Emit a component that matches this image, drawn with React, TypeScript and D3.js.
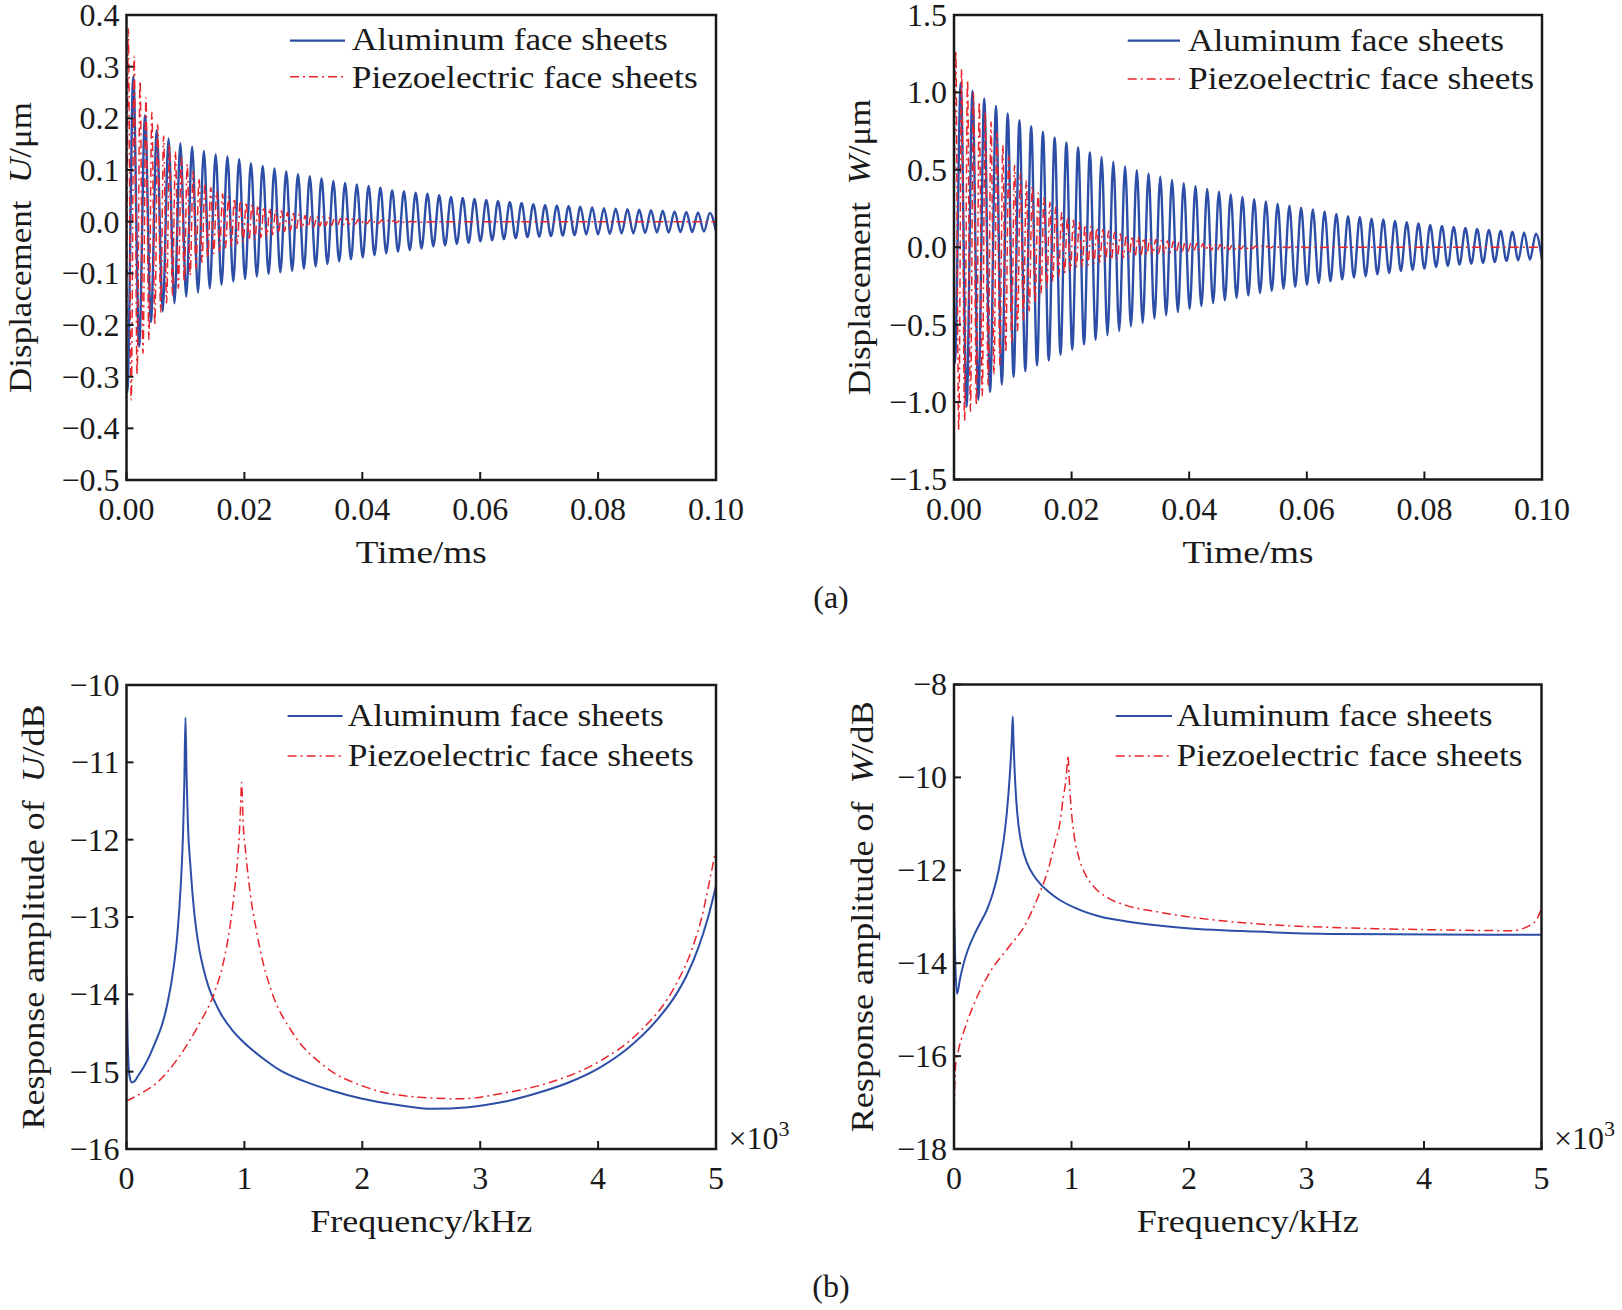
import React from "react";
import * as d3 from "d3";

const FONT = "'Liberation Serif', 'Times New Roman', Times, serif";
const BLUE = "#2c4ea7";
const RED = "#e8252c";
const INK = "#1a1a1a";

type Pt = [number, number];

// ---------------- tick values / labels ----------------
const timeTicks = [0, 0.02, 0.04, 0.06, 0.08, 0.1];
const timeTickLabels = ["0.00", "0.02", "0.04", "0.06", "0.08", "0.10"];
const uTicks = [0.4, 0.3, 0.2, 0.1, 0, -0.1, -0.2, -0.3, -0.4, -0.5];
const uTickLabels = ["0.4", "0.3", "0.2", "0.1", "0.0", "−0.1", "−0.2", "−0.3", "−0.4", "−0.5"];
const wTicks = [1.5, 1.0, 0.5, 0, -0.5, -1.0, -1.5];
const wTickLabels = ["1.5", "1.0", "0.5", "0.0", "−0.5", "−1.0", "−1.5"];
const freqTicks = [0, 1, 2, 3, 4, 5];
const freqTickLabels = ["0", "1", "2", "3", "4", "5"];
const uDbTicks = [-10, -11, -12, -13, -14, -15, -16];
const uDbTickLabels = ["−10", "−11", "−12", "−13", "−14", "−15", "−16"];
const wDbTicks = [-8, -10, -12, -14, -16, -18];
const wDbTickLabels = ["−8", "−10", "−12", "−14", "−16", "−18"];

const seriesNames = ["Aluminum face sheets", "Piezoelectric face sheets"];

// ---------------- time response (extrema) ----------------
// aluminum: ~50 cycles in 0.1 ms; first trough at 0.00015 ms, half period 0.000998 ms
const blueFirstTrough = 0.00015;
const blueHalfPeriod = 0.000998;

const blueUStart = -0.3;
const blueUTroughs = [
  -0.33, -0.242, -0.194, -0.174, -0.158, -0.145, -0.137, -0.129, -0.122, -0.116,
  -0.111, -0.106, -0.101, -0.098, -0.095, -0.091, -0.087, -0.082, -0.077, -0.073,
  -0.069, -0.065, -0.061, -0.058, -0.055, -0.052, -0.048, -0.046, -0.043, -0.041,
  -0.038, -0.036, -0.034, -0.032, -0.03, -0.029, -0.028, -0.027, -0.026, -0.025,
  -0.025, -0.024, -0.023, -0.023, -0.022, -0.021, -0.021, -0.02, -0.02, -0.019,
];
const blueUPeaks = [
  0.281, 0.206, 0.177, 0.161, 0.152, 0.145, 0.137, 0.13, 0.126, 0.121,
  0.113, 0.108, 0.103, 0.097, 0.092, 0.088, 0.084, 0.079, 0.075, 0.072,
  0.069, 0.066, 0.061, 0.059, 0.056, 0.054, 0.051, 0.048, 0.046, 0.044,
  0.042, 0.04, 0.038, 0.036, 0.034, 0.032, 0.031, 0.03, 0.029, 0.028,
  0.026, 0.025, 0.024, 0.023, 0.022, 0.021, 0.02, 0.019, 0.018, 0.017,
];
const blueUEnd = -0.019;

const blueWStart = -0.5;
const blueWTroughs = [
  -0.75, -1.03, -0.985, -0.935, -0.886, -0.838, -0.8, -0.763, -0.731, -0.694,
  -0.661, -0.627, -0.597, -0.569, -0.541, -0.511, -0.489, -0.461, -0.439, -0.418,
  -0.398, -0.379, -0.36, -0.343, -0.327, -0.311, -0.296, -0.282, -0.268, -0.255,
  -0.243, -0.231, -0.22, -0.209, -0.196, -0.187, -0.175, -0.166, -0.153, -0.145,
  -0.138, -0.127, -0.121, -0.112, -0.106, -0.101, -0.095, -0.088, -0.084, -0.08,
];
const blueWPeaks = [
  1.062, 1.011, 0.961, 0.912, 0.864, 0.821, 0.782, 0.746, 0.709, 0.677,
  0.645, 0.612, 0.584, 0.552, 0.524, 0.498, 0.476, 0.455, 0.434, 0.414,
  0.394, 0.376, 0.358, 0.341, 0.325, 0.31, 0.296, 0.282, 0.268, 0.256,
  0.244, 0.232, 0.215, 0.2, 0.196, 0.185, 0.179, 0.17, 0.162, 0.153,
  0.144, 0.138, 0.131, 0.125, 0.118, 0.112, 0.105, 0.099, 0.095, 0.088,
];
const blueWEnd = -0.08;

// piezoelectric: faster, quickly damped oscillation; extrema every 0.0005 ms from 0.0003 ms
const redFirstPeak = 0.0003;
const redHalfPeriod = 0.0005;

const redUStart = -0.44;
const redUExtrema = [
  0.374, -0.345, 0.32, -0.295, 0.272, -0.255, 0.24, -0.228, 0.212, -0.2,
  0.188, -0.175, 0.166, -0.158, 0.15, -0.142, 0.136, -0.129, 0.123, -0.117,
  0.111, -0.104, 0.097, -0.09, 0.084, -0.079, 0.075, -0.07, 0.066, -0.062,
  0.059, -0.057, 0.054, -0.051, 0.049, -0.047, 0.045, -0.043, 0.041, -0.039,
  0.038, -0.036, 0.035, -0.034, 0.032, -0.031, 0.029, -0.028, 0.026, -0.025,
  0.023, -0.022, 0.021, -0.019, 0.018, -0.017, 0.016, -0.015, 0.014, -0.013,
  0.012, -0.011, 0.011, -0.01, 0.01, -0.009, 0.009, -0.008, 0.008, -0.007,
  0.007, -0.007, 0.006, -0.006, 0.006, -0.005, 0.005, -0.005, 0.004, -0.004,
  0.004, -0.004, 0.003, -0.003, 0.003, -0.003, 0.003, -0.002, 0.002, -0.002,
  0.002, -0.002, 0.002, -0.002, 0.001, -0.001, 0.001, -0.001, 0.001, -0.001,
];
const redUTail: Pt[] = [[0.052, 0], [0.1, 0]];

const redWStart = 0.1;
const redWExtrema = [
  1.27, -1.18, 1.15, -1.12, 1.08, -1.06, 1.0, -1.02, 0.94, -0.96,
  0.87, -0.89, 0.81, -0.82, 0.74, -0.76, 0.66, -0.68, 0.59, -0.61,
  0.53, -0.54, 0.48, -0.47, 0.43, -0.41, 0.39, -0.36, 0.35, -0.3,
  0.32, -0.26, 0.29, -0.22, 0.26, -0.19, 0.225, -0.17, 0.195, -0.15,
  0.175, -0.135, 0.16, -0.125, 0.145, -0.115, 0.135, -0.105, 0.125, -0.095,
  0.115, -0.088, 0.105, -0.08, 0.097, -0.074, 0.088, -0.068, 0.08, -0.062,
  0.073, -0.057, 0.067, -0.052, 0.061, -0.048, 0.055, -0.044, 0.05, -0.04,
  0.045, -0.037, 0.041, -0.034, 0.037, -0.031, 0.034, -0.028, 0.031, -0.026,
  0.028, -0.024, 0.025, -0.022, 0.023, -0.02, 0.021, -0.018, 0.019, -0.017,
  0.017, -0.015, 0.015, -0.014, 0.013, -0.012, 0.012, -0.011, 0.01, -0.01,
  0.009, -0.008, 0.008, -0.007, 0.007, -0.006, 0.006, -0.005, 0.005, -0.005,
  0.004, -0.004, 0.004, -0.003, 0.003, -0.003, 0.002, -0.002, 0.002, -0.002,
];
const redWTail: Pt[] = [[0.065, 0], [0.1, 0]];

// ---------------- frequency response [kHz, dB] ----------------
const blueUdB: Pt[] = [
  [0, -13.75], [0.01, -14.6], [0.025, -15.05], [0.045, -15.14], [0.07, -15.12], [0.1, -15.05],
  [0.15, -14.93], [0.2, -14.78], [0.25, -14.6], [0.3, -14.4], [0.35, -14.1], [0.4, -13.65],
  [0.43, -13.25], [0.46, -12.6], [0.48, -11.9], [0.49, -11.3], [0.5, -10.42], [0.51, -11.2],
  [0.52, -11.75], [0.545, -12.4], [0.575, -12.95], [0.61, -13.35], [0.65, -13.65], [0.7, -13.92],
  [0.75, -14.1], [0.8, -14.25], [0.9, -14.47], [1.0, -14.63], [1.15, -14.82], [1.3, -14.98],
  [1.5, -15.12], [1.75, -15.25], [2.0, -15.35], [2.3, -15.43], [2.6, -15.48], [2.9, -15.46],
  [3.2, -15.39], [3.5, -15.27], [3.75, -15.14], [4.0, -14.96], [4.25, -14.7], [4.5, -14.33],
  [4.65, -14.03], [4.75, -13.76], [4.85, -13.4], [4.93, -13.02], [5.0, -12.6],
];
const redUdB: Pt[] = [
  [0, -15.38], [0.1, -15.3], [0.26, -15.14], [0.44, -14.82], [0.61, -14.4], [0.75, -13.96],
  [0.82, -13.6], [0.88, -13.1], [0.92, -12.6], [0.95, -12.1], [0.967, -11.6], [0.976, -11.26],
  [0.99, -11.8], [1.01, -12.15], [1.05, -12.7], [1.1, -13.16], [1.16, -13.6], [1.23, -13.96],
  [1.41, -14.5], [1.68, -14.93], [2.03, -15.2], [2.48, -15.33], [2.83, -15.35], [3.19, -15.28],
  [3.59, -15.14], [4.03, -14.85], [4.34, -14.5], [4.65, -13.9], [4.8, -13.4], [4.88, -13.0],
  [4.95, -12.5], [5.0, -12.12],
];
const blueWdB: Pt[] = [
  [0, -12.74], [0.01, -13.9], [0.026, -14.66], [0.05, -14.35], [0.08, -14.02], [0.12, -13.7],
  [0.17, -13.4], [0.22, -13.15], [0.28, -12.85], [0.33, -12.5], [0.38, -12.0], [0.42, -11.4],
  [0.45, -10.75], [0.475, -9.95], [0.49, -9.3], [0.5, -8.69], [0.505, -9.1], [0.515, -9.8],
  [0.53, -10.5], [0.55, -11.05], [0.58, -11.5], [0.62, -11.83], [0.67, -12.08], [0.73, -12.28],
  [0.8, -12.45], [0.9, -12.64], [1.04, -12.82], [1.25, -13.0], [1.47, -13.1], [1.91, -13.23],
  [2.56, -13.32], [3.21, -13.37], [4.09, -13.38], [5.0, -13.39],
];
const redWdB: Pt[] = [
  [0, -17.55], [0.005, -16.8], [0.013, -16.22], [0.04, -15.85], [0.08, -15.5], [0.17, -14.88],
  [0.29, -14.26], [0.47, -13.64], [0.6, -13.2], [0.73, -12.48], [0.8, -12.0], [0.86, -11.4],
  [0.9, -11.0], [0.93, -10.43], [0.955, -10.0], [0.97, -9.53], [0.98, -10.0], [0.995, -10.6],
  [1.02, -11.2], [1.06, -11.7], [1.12, -12.1], [1.2, -12.38], [1.3, -12.58], [1.47, -12.76],
  [1.7, -12.88], [1.91, -12.97], [2.56, -13.15], [3.21, -13.23], [4.09, -13.28], [4.74, -13.3],
  [4.89, -13.2], [4.96, -13.05], [5.0, -12.83],
];

// ---------------- series builders ----------------
function blueSeries(start: number, troughs: number[], peaks: number[], end: number): Pt[] {
  const pts: Pt[] = [[0, start]];
  troughs.forEach((v, k) => {
    pts.push([blueFirstTrough + 2 * k * blueHalfPeriod, v]);
    pts.push([blueFirstTrough + (2 * k + 1) * blueHalfPeriod, peaks[k]]);
  });
  pts.push([0.1, end]);
  return pts;
}
function redSeries(start: number, vals: number[], tail: Pt[]): Pt[] {
  const pts: Pt[] = [[0, start]];
  vals.forEach((v, j) => pts.push([redFirstPeak + j * redHalfPeriod, v]));
  return pts.concat(tail);
}

interface PanelProps {
  id: string;
  x0: number; x1: number; y0: number; y1: number;
  xDomain: [number, number]; yDomain: [number, number];
  xTicks: number[]; xTickLabels: string[];
  yTicks: number[]; yTickLabels: string[];
  blue: Pt[]; red: Pt[]; blueW: number; redW: number;
  yPre: string; yItal: string; yPost: string; ylabX: number; ylabLen: number;
  xLabel: string; xLabelLen: number;
  legLine: [number, number]; legY: [number, number]; legTextX: number; legBase: [number, number];
  multiplierX?: number;
}

function Panel(p: PanelProps) {
  const x = d3.scaleLinear().domain(p.xDomain).range([p.x0, p.x1]);
  const y = d3.scaleLinear().domain(p.yDomain).range([p.y1, p.y0]);
  const line = d3.line<Pt>().x((d) => x(d[0])).y((d) => y(d[1])).curve(d3.curveMonotoneX);
  const clip = `clip-${p.id}`;
  const cx = (p.x0 + p.x1) / 2;
  const cy = (p.y0 + p.y1) / 2;
  return (
    <g>
      <defs>
        <clipPath id={clip}>
          <rect x={p.x0} y={p.y0} width={p.x1 - p.x0} height={p.y1 - p.y0} />
        </clipPath>
      </defs>
      <g clipPath={`url(#${clip})`}>
        <path d={line(p.blue) || ""} fill="none" stroke={BLUE} strokeWidth={p.blueW} strokeLinejoin="round" />
        <path d={line(p.red) || ""} fill="none" stroke={RED} strokeWidth={p.redW} strokeDasharray="9 4 2 4" />
      </g>
      <rect x={p.x0} y={p.y0} width={p.x1 - p.x0} height={p.y1 - p.y0} fill="none" stroke={INK} strokeWidth={2.5} />
      {p.yTicks.map((v, i) => (
        <g key={`y${i}`}>
          <line x1={p.x0} x2={p.x0 + 7} y1={y(v)} y2={y(v)} stroke={INK} strokeWidth={2} />
          <text x={p.x0 - 7} y={y(v)} dy="0.34em" textAnchor="end" fontSize={32} fontFamily={FONT} fill={INK}>
            {p.yTickLabels[i]}
          </text>
        </g>
      ))}
      {p.xTicks.map((v, i) => (
        <g key={`x${i}`}>
          <line x1={x(v)} x2={x(v)} y1={p.y1} y2={p.y1 - 8} stroke={INK} strokeWidth={2} />
          <text x={x(v)} y={p.y1 + 40} textAnchor="middle" fontSize={32} fontFamily={FONT} fill={INK}>
            {p.xTickLabels[i]}
          </text>
        </g>
      ))}
      <text
        transform={`translate(${p.ylabX},${cy}) rotate(-90)`}
        textAnchor="middle"
        fontSize={32}
        fontFamily={FONT}
        fill={INK}
        textLength={p.ylabLen}
        lengthAdjust="spacingAndGlyphs"
      >
        {p.yPre + "\u2002"}
        <tspan fontStyle="italic">{p.yItal}</tspan>
        {p.yPost}
      </text>
      <text x={cx} y={p.y1 + 83} textAnchor="middle" fontSize={32} fontFamily={FONT} fill={INK}
        textLength={p.xLabelLen} lengthAdjust="spacingAndGlyphs">
        {p.xLabel}
      </text>
      <line x1={p.legLine[0]} x2={p.legLine[1]} y1={p.legY[0]} y2={p.legY[0]} stroke={BLUE} strokeWidth={2.2} />
      <line x1={p.legLine[0]} x2={p.legLine[1]} y1={p.legY[1]} y2={p.legY[1]} stroke={RED} strokeWidth={1.6} strokeDasharray="9 4 2 4" />
      <text x={p.legTextX} y={p.legBase[0]} fontSize={32} fontFamily={FONT} fill={INK} textLength={316} lengthAdjust="spacingAndGlyphs">
        {seriesNames[0]}
      </text>
      <text x={p.legTextX} y={p.legBase[1]} fontSize={32} fontFamily={FONT} fill={INK} textLength={346} lengthAdjust="spacingAndGlyphs">
        {seriesNames[1]}
      </text>
      {p.multiplierX !== undefined && (
        <text x={p.multiplierX} y={p.y1} fontSize={32} fontFamily={FONT} fill={INK}>
          ×10
          <tspan fontSize={22} dy={-13}>3</tspan>
        </text>
      )}
    </g>
  );
}

export default function App() {
  const blueU = blueSeries(blueUStart, blueUTroughs, blueUPeaks, blueUEnd);
  const blueW = blueSeries(blueWStart, blueWTroughs, blueWPeaks, blueWEnd);
  const redU = redSeries(redUStart, redUExtrema, redUTail);
  const redW = redSeries(redWStart, redWExtrema, redWTail);

  return (
    <svg
      width={1622}
      height={1310}
      viewBox="0 0 1622 1310"
      style={{ position: "absolute", left: 0, top: 0, background: "#fff" }}
    >
      <rect x={0} y={0} width={1622} height={1310} fill="#fff" />
      <Panel
        id="tl" x0={126.5} x1={716} y0={15} y1={480}
        xDomain={[0, 0.1]} yDomain={[-0.5, 0.4]}
        xTicks={timeTicks} xTickLabels={timeTickLabels}
        yTicks={uTicks} yTickLabels={uTickLabels}
        blue={blueU} red={redU} blueW={2.4} redW={1.5}
        yPre="Displacement" yItal="U" yPost="/μm" ylabX={31} ylabLen={291}
        xLabel="Time/ms" xLabelLen={131}
        legLine={[290, 345]} legY={[40.7, 76.7]} legTextX={351.7} legBase={[50, 88.3]}
      />
      <Panel
        id="tr" x0={954} x1={1542} y0={15} y1={479.5}
        xDomain={[0, 0.1]} yDomain={[-1.5, 1.5]}
        xTicks={timeTicks} xTickLabels={timeTickLabels}
        yTicks={wTicks} yTickLabels={wTickLabels}
        blue={blueW} red={redW} blueW={2.4} redW={1.5}
        yPre="Displacement" yItal="W" yPost="/μm" ylabX={870} ylabLen={296}
        xLabel="Time/ms" xLabelLen={131}
        legLine={[1127.7, 1180]} legY={[40.7, 79]} legTextX={1188} legBase={[50.6, 89]}
      />
      <Panel
        id="bl" x0={126.5} x1={716} y0={685} y1={1149}
        xDomain={[0, 5]} yDomain={[-16, -10]}
        xTicks={freqTicks} xTickLabels={freqTickLabels}
        yTicks={uDbTicks} yTickLabels={uDbTickLabels}
        blue={blueUdB} red={redUdB} blueW={2} redW={1.5}
        yPre="Response amplitude of" yItal="U" yPost="/dB" ylabX={44} ylabLen={425}
        xLabel="Frequency/kHz" xLabelLen={222}
        legLine={[287.6, 342.6]} legY={[716, 756]} legTextX={347.8} legBase={[726.3, 765.7]}
        multiplierX={728.5}
      />
      <Panel
        id="br" x0={954} x1={1541.5} y0={684.5} y1={1149}
        xDomain={[0, 5]} yDomain={[-18, -8]}
        xTicks={freqTicks} xTickLabels={freqTickLabels}
        yTicks={wDbTicks} yTickLabels={wDbTickLabels}
        blue={blueWdB} red={redWdB} blueW={2} redW={1.5}
        yPre="Response amplitude of" yItal="W" yPost="/dB" ylabX={873} ylabLen={431}
        xLabel="Frequency/kHz" xLabelLen={222}
        legLine={[1115.7, 1172]} legY={[716, 756]} legTextX={1176.5} legBase={[726, 766]}
        multiplierX={1554}
      />
      <text x={831} y={608} textAnchor="middle" fontSize={32} fontFamily={FONT} fill={INK}>(a)</text>
      <text x={831} y={1297} textAnchor="middle" fontSize={32} fontFamily={FONT} fill={INK}>(b)</text>
    </svg>
  );
}
